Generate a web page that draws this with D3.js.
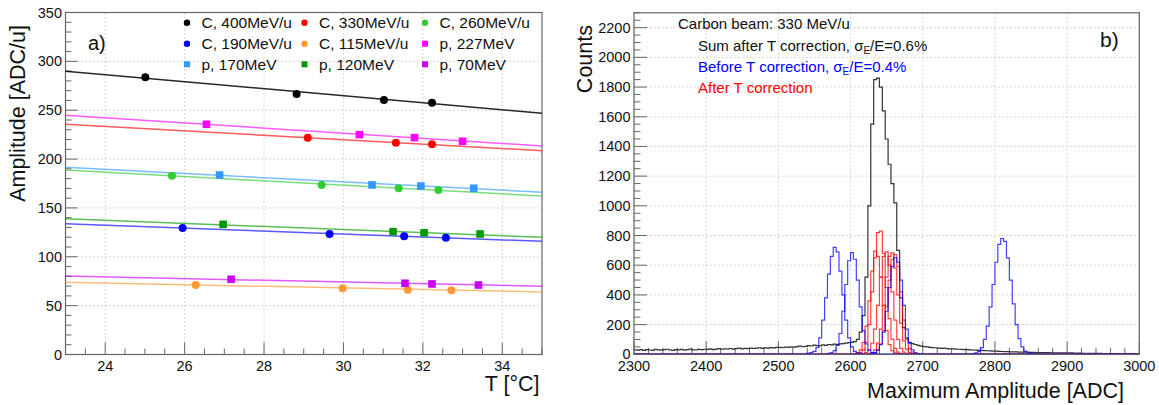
<!DOCTYPE html>
<html><head><meta charset="utf-8">
<script src="https://cdn.jsdelivr.net/npm/d3@7"></script>
<style>
body{margin:0;background:#fff;}
svg{font-family:"Liberation Sans",Arial,Helvetica,sans-serif;}
</style></head>
<body><svg id="c" width="1159" height="405"></svg>
<script>
// ---------- Panel a) data ----------
const seriesNames = ["C, 400MeV/u","C, 330MeV/u","C, 260MeV/u","C, 190MeV/u","C, 115MeV/u","p, 227MeV","p, 170MeV","p, 120MeV","p, 70MeV"];
const seriesColors = ["#000000","#ff0000","#33cc33","#0000ff","#ff9933","#ff00ff","#3399ff","#009900","#cc00ff"];
const seriesShape = ["circle","circle","circle","circle","circle","square","square","square","square"];
const seriesT = [
  [25.01,28.82,31.02,32.23],
  [29.1,31.32,32.23],
  [25.68,29.45,31.39,32.39],
  [25.95,29.65,31.53,32.58],
  [26.28,29.98,31.62,32.72],
  [26.55,30.4,31.79,33.0],
  [26.88,30.72,31.95,33.28],
  [26.97,31.25,32.03,33.44],
  [27.17,31.55,32.23,33.4]
];
const seriesA = [
  [283.7,266.6,260.5,257.7],
  [221.9,216.8,215.1],
  [183,173.5,170.1,168.4],
  [129.5,123.3,121,119.5],
  [71.1,67.7,66.3,65.7],
  [235.6,225,221.9,218.2],
  [183.7,173.5,172.4,170.1],
  [133.2,125.7,124.6,123.3],
  [77,72.9,72.2,71.1]
];
// linear fit value at T=23 and at T=35
const fitT = [23,35];
const fitA = [
  [290,246.8],[235.6,208.6],[188.8,162.2],[133.9,115.8],[73.9,64],
  [244.8,213.4],[191.6,166],[139,119.9],[80.3,69.8]
];
const aXTicks = [24,26,28,30,32,34];
const aYTicks = [0,50,100,150,200,250,300,350];

// ---------- Panel b) data ----------
const binStart = 2300, binWidth = 4;
const sumCounts = [
 30,28,32,27,31,29,26,33,30,28,31,34,29,27,32,30,33,28,31,35,30,29,33,31,34,
 33,36,32,35,38,34,37,36,39,35,38,41,37,40,38,42,39,41,44,40,43,41,45,43,46,
 47,44,49,46,50,48,52,55,51,54,58,56,62,59,57,63,60,66,64,68,65,70,72,75,78,
 80,85,100,150,260,520,1000,1550,1850,1860,1800,1640,1450,1280,1150,1020,700,380,180,110,80,72,66,60,55,
 52,50,47,45,44,42,40,41,38,37,36,35,34,33,32,31,30,29,28,27,26,25,24,23,22,
 21,20,19,18,18,17,16,16,15,15,14,14,13,13,12,12,12,11,11,10,10,10,9,9,9,
 9,9,8,8,8,7,7,7,6,6,6,6,5,5,5,5,5,4,4,4,4,4,4,4,3
];
const beforeStart = [2540,2568,2628,2768];
const beforeCounts = [
 [8,12,20,45,110,230,380,540,660,720,690,560,400,230,110,50,20,10,6],
 [6,12,25,60,140,290,470,630,685,640,500,320,160,70,28,12,6],
 [6,12,28,65,150,290,450,590,652,620,500,330,170,75,30,12,5],
 [5,10,20,45,100,190,320,470,620,740,780,760,650,500,340,200,105,50,22,10,5]
];
const afterStart = [2604,2608,2616,2624,2628];
const afterCounts = [
 [5,12,30,80,190,360,560,695,660,520,330,160,65,25,10,4],
 [5,12,30,80,200,420,650,820,830,680,450,240,100,40,15,5],
 [5,12,30,75,170,330,520,660,690,600,420,230,100,40,15,5],
 [5,12,30,75,170,330,520,660,683,580,400,210,90,35,12,5],
 [5,12,30,70,160,320,500,640,672,590,420,230,100,40,15,5]
];
const bXTicks = [2300,2400,2500,2600,2700,2800,2900,3000];
const bYTicks = [0,200,400,600,800,1000,1200,1400,1600,1800,2000,2200];

const svg = d3.select("#c");
const frameColor = "#666";

function drawFrame(g, x, y, xTicks, yTicks, xMinor, yMinor, tickLen) {
  const [x0,x1] = x.range(), [y0,y1] = y.range();
  g.append("g").selectAll("line").data(xTicks).join("line")
    .attr("x1",d=>x(d)).attr("x2",d=>x(d)).attr("y1",y0).attr("y2",y1)
    .attr("stroke","#c8c8c8").attr("stroke-width",1).attr("stroke-dasharray","1.5,2.5");
  g.append("g").selectAll("line").data(yTicks).join("line")
    .attr("x1",x0).attr("x2",x1).attr("y1",d=>y(d)).attr("y2",d=>y(d))
    .attr("stroke","#c8c8c8").attr("stroke-width",1).attr("stroke-dasharray","1.5,2.5");
  g.append("g").selectAll("line").data(xMinor).join("line")
    .attr("x1",d=>x(d)).attr("x2",d=>x(d)).attr("y1",y0).attr("y2",y0-tickLen/2)
    .attr("stroke",frameColor);
  g.append("g").selectAll("line").data(yMinor).join("line")
    .attr("x1",x0).attr("x2",x0+tickLen/2).attr("y1",d=>y(d)).attr("y2",d=>y(d))
    .attr("stroke",frameColor);
  g.append("g").selectAll("line").data(xTicks).join("line")
    .attr("x1",d=>x(d)).attr("x2",d=>x(d)).attr("y1",y0).attr("y2",y0-tickLen)
    .attr("stroke",frameColor);
  g.append("g").selectAll("line").data(yTicks).join("line")
    .attr("x1",x0).attr("x2",x0+tickLen).attr("y1",d=>y(d)).attr("y2",d=>y(d))
    .attr("stroke",frameColor);
  g.append("g").selectAll("text").data(xTicks).join("text")
    .attr("x",d=>x(d)).attr("y",y0+16.5).attr("text-anchor","middle")
    .attr("font-size",14.5).attr("fill","#111").text(d=>d);
  g.append("g").selectAll("text").data(yTicks).join("text")
    .attr("x",x0-3.5).attr("y",d=>y(d)+5).attr("text-anchor","end")
    .attr("font-size",14.5).attr("fill","#111").text(d=>d);
}

// ================= Panel a =================
const xa = d3.scaleLinear().domain([23,35]).range([65.5,542]);
const ya = d3.scaleLinear().domain([0,350]).range([354.5,12.5]);
const ga = svg.append("g");
const aXMinor = d3.range(23,35.001,0.5).filter(v=>!aXTicks.includes(v));
const aYMinor = d3.range(0,350.001,10).filter(v=>!aYTicks.includes(v));
drawFrame(ga, xa, ya, aXTicks, aYTicks, aXMinor, aYMinor, 12);
ga.append("rect").attr("x",65.5).attr("y",12.5).attr("width",542-65.5).attr("height",342)
  .attr("fill","none").attr("stroke",frameColor).attr("stroke-width",1.2);

seriesNames.forEach((n,i)=>{
  ga.append("line").attr("x1",xa(fitT[0])).attr("x2",xa(fitT[1]))
    .attr("y1",ya(fitA[i][0])).attr("y2",ya(fitA[i][1]))
    .attr("stroke",seriesColors[i]).attr("stroke-opacity",i===0?0.85:0.65).attr("stroke-width",1.5);
});
seriesNames.forEach((n,i)=>{
  const pts = seriesT[i].map((t,j)=>[t,seriesA[i][j]]);
  if (seriesShape[i]==="circle") {
    ga.append("g").selectAll("circle").data(pts).join("circle")
      .attr("cx",d=>xa(d[0])).attr("cy",d=>ya(d[1])).attr("r",4).attr("fill",seriesColors[i]);
  } else {
    ga.append("g").selectAll("rect").data(pts).join("rect")
      .attr("x",d=>xa(d[0])-3.8).attr("y",d=>ya(d[1])-3.8).attr("width",7.6).attr("height",7.6).attr("fill",seriesColors[i]);
  }
});
const legCols = [187,304.5,425], legRows = [22.7,43.7,64.3];
seriesNames.forEach((n,i)=>{
  const cx = legCols[i%3], cy = legRows[Math.floor(i/3)];
  if (seriesShape[i]==="circle")
    ga.append("circle").attr("cx",cx).attr("cy",cy).attr("r",3.2).attr("fill",seriesColors[i]);
  else
    ga.append("rect").attr("x",cx-3).attr("y",cy-3).attr("width",6).attr("height",6).attr("fill",seriesColors[i]);
  ga.append("text").attr("x",cx+14.5).attr("y",cy+5.5).attr("font-size",15.5).attr("fill","#111").text(n);
});
ga.append("text").attr("x",88).attr("y",50).attr("font-size",20).attr("fill","#111").text("a)");
ga.append("text").attr("transform","translate(25,25) rotate(-90)").attr("text-anchor","end")
  .attr("font-size",21.5).attr("fill","#111").text("Amplitude [ADC/u]");
ga.append("text").attr("x",539.5).attr("y",391).attr("text-anchor","end")
  .attr("font-size",21.5).attr("fill","#111").text("T [°C]");

// ================= Panel b =================
const xb = d3.scaleLinear().domain([2300,3000]).range([634,1139.3]);
const yb = d3.scaleLinear().domain([0,2300]).range([354.3,12.8]);
const gb = svg.append("g");
const bXMinor = d3.range(2300,3000.001,20).filter(v=>!bXTicks.includes(v));
const bYMinor = d3.range(0,2300.001,50).filter(v=>!bYTicks.includes(v));
drawFrame(gb, xb, yb, bXTicks, bYTicks, bXMinor, bYMinor, 13);

svg.append("defs").append("clipPath").attr("id","clipb").append("rect")
  .attr("x",634).attr("y",12.8).attr("width",1139.3-634).attr("height",354.3-12.8+2);

const nBins = sumCounts.length;
function fullArray(start, counts) {
  const arr = new Array(nBins).fill(0);
  const off = Math.round((start-binStart)/binWidth);
  counts.forEach((c,j)=>{ if (off+j<nBins) arr[off+j]=c; });
  return arr;
}
function histPts(arr) {
  const pts = [];
  arr.forEach((c,i)=>{
    pts.push([binStart+i*binWidth, c]);
    pts.push([binStart+(i+1)*binWidth, c]);
  });
  return pts;
}
const hline = d3.line().x(d=>xb(d[0])).y(d=>yb(d[1]));
const hg = gb.append("g").attr("clip-path","url(#clipb)");
hg.append("path").attr("d",hline(histPts(sumCounts))).attr("fill","none")
  .attr("stroke","#333").attr("stroke-width",1.2);
afterCounts.forEach((c,i)=>{
  hg.append("path").attr("d",hline(histPts(fullArray(afterStart[i],c)))).attr("fill","none")
    .attr("stroke","rgba(255,0,0,0.75)").attr("stroke-width",1.2);
});
beforeCounts.forEach((c,i)=>{
  hg.append("path").attr("d",hline(histPts(fullArray(beforeStart[i],c)))).attr("fill","none")
    .attr("stroke","rgba(0,0,255,0.75)").attr("stroke-width",1.2);
});
gb.append("rect").attr("x",634).attr("y",12.8).attr("width",1139.3-634).attr("height",354.3-12.8)
  .attr("fill","none").attr("stroke",frameColor).attr("stroke-width",1.2);

gb.append("text").attr("x",678).attr("y",28.5).attr("font-size",15).attr("fill","#111").text("Carbon beam: 330 MeV/u");
function sigmaText(y, pre, post, color) {
  const t = gb.append("text").attr("x",698).attr("y",y).attr("font-size",15).attr("fill",color);
  t.append("tspan").text(pre + "\u03C3");
  t.append("tspan").attr("font-size",10).attr("dy",3.5).text("E");
  t.append("tspan").attr("dy",-3.5).text(post);
}
sigmaText(50.5, "Sum after T correction, ", "/E=0.6%", "#111");
sigmaText(71.5, "Before T correction, ", "/E=0.4%", "#0000ff");
gb.append("text").attr("x",698).attr("y",93).attr("font-size",15).attr("fill","#ff0000").text("After T correction");
gb.append("text").attr("x",1100).attr("y",46.5).attr("font-size",21).attr("fill","#111").text("b)");
gb.append("text").attr("transform","translate(592,25) rotate(-90)").attr("text-anchor","end")
  .attr("font-size",21.5).attr("fill","#111").text("Counts");
gb.append("text").attr("x",1124).attr("y",397.5).attr("text-anchor","end")
  .attr("font-size",21.5).attr("fill","#111").text("Maximum Amplitude [ADC]");
</script></body></html>
